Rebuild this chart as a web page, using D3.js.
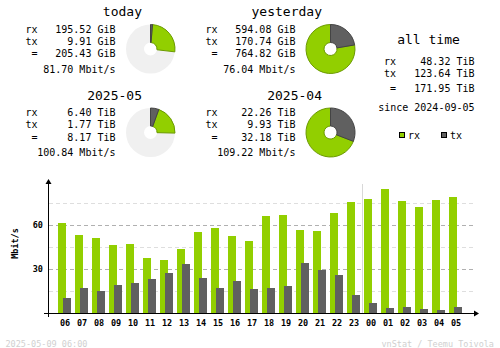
<!DOCTYPE html>
<html>
<head>
<meta charset="utf-8">
<script src="https://cdn.jsdelivr.net/npm/d3@7"></script>
<style>
  html, body { margin: 0; padding: 0; background: #fff; }
  svg { display: block; }
  text { font-family: "DejaVu Sans Mono", monospace; }
</style>
</head>
<body>
<svg id="chart" width="500" height="348"></svg>
<script>
// ---- summary blocks ----
const periods   = ["today", "yesterday", "2025-05", "2025-04"];
const rxAmount  = [195.52, 594.08, 6.40, 22.26];
const txAmount  = [9.91, 170.74, 1.77, 9.93];
const total     = [205.43, 764.82, 8.17, 32.18];
const units     = ["GiB", "GiB", "TiB", "TiB"];
const avgRate   = [81.70, 76.04, 100.84, 109.22];

const allTimeRx = 48.32, allTimeTx = 123.64, allTimeTotal = 171.95;
const allTimeUnit = "TiB";
const sinceDate = "2024-09-05";

// ---- hourly chart ----
const hours  = ["06","07","08","09","10","11","12","13","14","15","16","17",
                "18","19","20","21","22","23","00","01","02","03","04","05"];
const rxRate = [61.6,53.4,51.3,46.6,47.2,37.7,36.3,43.8,55.4,58.2,52.7,49.3,
                66.3,67.0,56.8,56.1,68.4,75.9,77.9,84.7,76.6,72.5,77.3,79.3];
const txRate = [10.4,17.3,15.2,19.3,20.7,23.4,27.5,33.6,24.1,17.3,22.0,16.6,
                17.3,18.6,34.3,29.5,26.1,12.5,7.0,3.6,4.3,2.9,2.2,4.3];
const yTicks = [30, 60];
const yMinor = [15, 45, 75];
const stamp  = "2025-05-09 06:00";
const credit = "vnStat / Teemu Toivola";

const RX = "#92cf00", RXD = "#6b9a00", TX = "#606060", TXD = "#444444";

const svg = d3.select("#chart");

// ---------- summary blocks ----------
const blockPos = [
  { x: 0,   y: 0 },
  { x: 180, y: 0 },
  { x: 0,   y: 83.5 },
  { x: 180, y: 83.5 }
];

const arc = d3.arc().innerRadius(6.5).outerRadius(24.5);

periods.forEach((name, i) => {
  const p = blockPos[i];
  const g = svg.append("g").attr("transform", `translate(${p.x},${p.y})`);

  g.append("text").attr("x", 142).attr("y", 16)
    .attr("text-anchor", "end").attr("font-size", 13).attr("fill", "#000")
    .text(name);

  const rows = [
    ["rx", rxAmount[i].toFixed(2) + " " + units[i], 32.5],
    ["tx", txAmount[i].toFixed(2) + " " + units[i], 44.5],
    [" =", total[i].toFixed(2) + " " + units[i], 57]
  ];
  rows.forEach(r => {
    g.append("text").attr("x", 25.5).attr("y", r[2])
      .attr("font-size", 10).attr("xml:space", "preserve").text(r[0]);
    g.append("text").attr("x", 115.5).attr("y", r[2])
      .attr("font-size", 10).attr("text-anchor", "end").text(r[1]);
  });
  g.append("text").attr("x", 115.5).attr("y", 72.5)
    .attr("font-size", 10).attr("text-anchor", "end")
    .text(avgRate[i].toFixed(2) + " Mbit/s");

  // pie: share of the larger of the two paired periods
  const pair = i % 2 === 0 ? [i, i + 1] : [i - 1, i];
  const maxTotal = d3.max(pair, k => total[k]);
  const a = d3.scaleLinear().domain([0, maxTotal]).range([0, 2 * Math.PI]);
  const pg = g.append("g").attr("transform", "translate(150.5,49)");
  pg.append("path")
    .attr("d", arc({ startAngle: 0, endAngle: 2 * Math.PI }))
    .attr("fill", "#f0f0f0");
  pg.append("path")
    .attr("d", arc({ startAngle: a(txAmount[i]), endAngle: a(total[i]) }))
    .attr("fill", RX).attr("stroke", RXD).attr("stroke-width", 1);
  pg.append("path")
    .attr("d", arc({ startAngle: 0, endAngle: a(txAmount[i]) }))
    .attr("fill", TX).attr("stroke", TXD).attr("stroke-width", 1);
});

// ---------- all time ----------
const at = svg.append("g");
at.append("text").attr("x", 428.5).attr("y", 43.5)
  .attr("text-anchor", "middle").attr("font-size", 13).text("all time");
[["rx", allTimeRx, 64.5], ["tx", allTimeTx, 77], [" =", allTimeTotal, 91.5]].forEach(r => {
  at.append("text").attr("x", 384).attr("y", r[2])
    .attr("font-size", 10).attr("xml:space", "preserve").text(r[0]);
  at.append("text").attr("x", 474.5).attr("y", r[2])
    .attr("font-size", 10).attr("text-anchor", "end")
    .text(r[1].toFixed(2) + " " + allTimeUnit);
});
at.append("text").attr("x", 474.5).attr("y", 111)
  .attr("font-size", 10).attr("text-anchor", "end").text("since " + sinceDate);

// legend
[["rx", RX, RXD, 399.5], ["tx", TX, TXD, 441.5]].forEach(l => {
  at.append("rect").attr("x", l[3]).attr("y", 132.5).attr("width", 5).attr("height", 5)
    .attr("fill", l[1]).attr("stroke", "#000").attr("stroke-width", 1);
  at.append("text").attr("x", l[3] + 8.5).attr("y", 139)
    .attr("font-size", 10).text(l[0]);
});

// ---------- hourly bars ----------
const x = d3.scaleBand().domain(hours).range([55, 463]);
const y = d3.scaleLinear().domain([0, 90]).range([313, 181]);

const grid = svg.append("g");
yMinor.forEach(v => {
  grid.append("line").attr("x1", 49).attr("x2", 473)
    .attr("y1", Math.round(y(v)) + 0.5).attr("y2", Math.round(y(v)) + 0.5)
    .attr("stroke", "#dedede").attr("stroke-dasharray", "4,3");
});
yTicks.forEach(v => {
  grid.append("line").attr("x1", 49).attr("x2", 473)
    .attr("y1", Math.round(y(v)) + 0.5).attr("y2", Math.round(y(v)) + 0.5)
    .attr("stroke", "#b0b0b0").attr("stroke-dasharray", "4,3");
});

// day boundary
grid.append("line")
  .attr("x1", x("00") + 1.5).attr("x2", x("00") + 1.5)
  .attr("y1", 184).attr("y2", 313)
  .attr("stroke", "#d8d8d8");

const bars = svg.append("g");
bars.selectAll("rect.rx").data(hours).join("rect")
  .attr("class", "rx")
  .attr("x", d => x(d) + 3).attr("width", 8)
  .attr("y", (d, i) => Math.round(y(rxRate[i])))
  .attr("height", (d, i) => 313 - Math.round(y(rxRate[i])))
  .attr("fill", RX);
bars.selectAll("rect.tx").data(hours).join("rect")
  .attr("class", "tx")
  .attr("x", d => x(d) + 8).attr("width", 8)
  .attr("y", (d, i) => Math.round(y(txRate[i])))
  .attr("height", (d, i) => 313 - Math.round(y(txRate[i])))
  .attr("fill", TX);

// axes
const xAxis = svg.append("g").attr("transform", "translate(0,313)")
  .call(d3.axisBottom(x).tickSize(0).tickPadding(7).tickSizeOuter(0));
xAxis.select(".domain").remove();
xAxis.selectAll("text").attr("font-family", "DejaVu Sans Mono")
  .attr("font-size", 8.5).attr("font-weight", "bold").attr("fill", "#000")
  .attr("dx", 1.5);

const yAxis = svg.append("g").attr("transform", "translate(43,0)")
  .call(d3.axisLeft(y).tickValues(yTicks).tickSize(0).tickPadding(0));
yAxis.select(".domain").remove();
yAxis.selectAll("text").attr("font-family", "DejaVu Sans Mono")
  .attr("font-size", 8.5).attr("font-weight", "bold").attr("fill", "#000");

svg.append("line").attr("x1", 48.5).attr("x2", 48.5).attr("y1", 181).attr("y2", 317)
  .attr("stroke", "#000");
svg.append("line").attr("x1", 44).attr("x2", 476).attr("y1", 313.5).attr("y2", 313.5)
  .attr("stroke", "#000");
svg.append("path").attr("d", "M45.5,184 L48.5,179 L51.5,184 Z").attr("fill", "#000");
svg.append("path").attr("d", "M474,310.5 L479,313.5 L474,316.5 Z").attr("fill", "#000");

svg.append("text")
  .attr("transform", "translate(17.5,243.5) rotate(-90)")
  .attr("text-anchor", "middle").attr("font-size", 8.5).attr("font-weight", "bold")
  .text("Mbit/s");

// footer
svg.append("text").attr("x", 5.5).attr("y", 346.5)
  .attr("font-size", 8.5).attr("fill", "#d0d0d0").text(stamp);
svg.append("text").attr("x", 494).attr("y", 346.5).attr("text-anchor", "end")
  .attr("font-size", 8.5).attr("fill", "#d0d0d0").text(credit);
</script>
</body>
</html>
